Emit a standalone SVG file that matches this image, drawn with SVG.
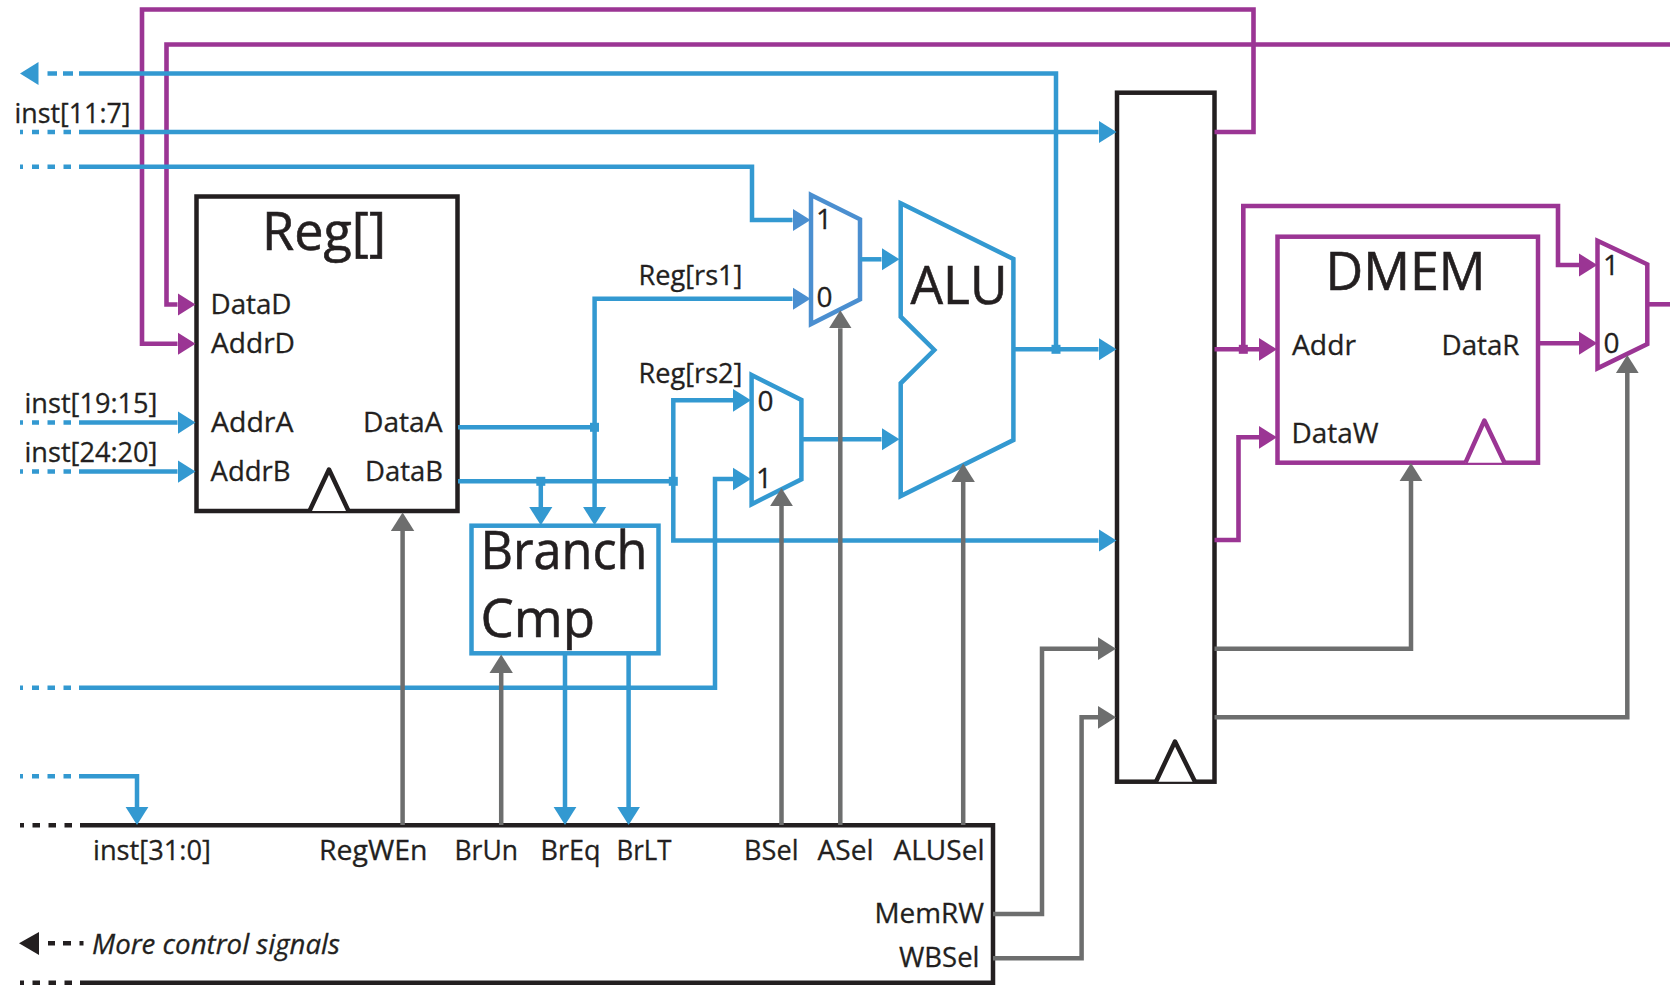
<svg xmlns="http://www.w3.org/2000/svg" width="1670" height="985" viewBox="0 0 1670 985">
<style>
text{font-family:"Open Sans","Noto Sans","Liberation Sans",sans-serif;fill:#231F20;font-size:28px;stroke:#231F20;stroke-width:.3px}
.big{font-size:53px;stroke-width:.6px}
.it{font-style:italic}
.c{fill:none;stroke-width:4.5;stroke-linejoin:miter}
.b{stroke:#3399D1}.p{stroke:#9B3594;stroke-width:4.6}.g{stroke:#6D6E6E}.k{stroke:#231F20}
.ba{marker-end:url(#ab)}.pa{marker-end:url(#ap)}.ga{marker-end:url(#ag)}.ma{marker-end:url(#am)}
.d{stroke-dasharray:3 9 7 8.5 7.5 8.5 7.5 8}
.box{fill:#fff;stroke-width:4.5}
.bk{stroke:#231F20}.bl{stroke:#3399D1}.pu{stroke:#9B3594}.mb{stroke:#4B8FD0}
.tri{fill:#fff;stroke-width:4.5;stroke-linejoin:round}
.jb{fill:#3399D1}.jp{fill:#9B3594}
</style>
<defs>
<marker id="ab" markerUnits="userSpaceOnUse" markerWidth="19" markerHeight="24" refX="0" refY="12" orient="auto"><path d="M-1 0L18 12L-1 24z" fill="#3399D1"/></marker>
<marker id="am" markerUnits="userSpaceOnUse" markerWidth="19" markerHeight="24" refX="0" refY="12" orient="auto"><path d="M-1 0L18 12L-1 24z" fill="#4B8FD0"/></marker>
<marker id="ap" markerUnits="userSpaceOnUse" markerWidth="19" markerHeight="24" refX="0" refY="12" orient="auto"><path d="M-1 0L18 12L-1 24z" fill="#9B3594"/></marker>
<marker id="ag" markerUnits="userSpaceOnUse" markerWidth="19" markerHeight="24" refX="0" refY="12" orient="auto"><path d="M-1 0L18 12L-1 24z" fill="#6D6E6E"/></marker>
</defs>

<g id="reg">
<rect class="box bk" x="196.5" y="196.5" width="261" height="314.5"/>
<path class="tri bk" d="M309.5 511L329 469.5L348.5 511"/>
<text class="big" x="262" y="250" textLength="124" lengthAdjust="spacingAndGlyphs">Reg[]</text>
<text x="210.5" y="313.7" textLength="81" lengthAdjust="spacingAndGlyphs">DataD</text>
<text x="211" y="353.3" textLength="84" lengthAdjust="spacingAndGlyphs">AddrD</text>
<text x="211" y="431.7" textLength="82.5" lengthAdjust="spacingAndGlyphs">AddrA</text>
<text x="210.5" y="480.7" textLength="80" lengthAdjust="spacingAndGlyphs">AddrB</text>
<text x="363" y="431.7" textLength="79.5" lengthAdjust="spacingAndGlyphs">DataA</text>
<text x="365" y="480.7" textLength="78" lengthAdjust="spacingAndGlyphs">DataB</text>
</g>
<g id="branch-cmp">
<rect class="box bl" x="471.5" y="525.7" width="187" height="127.6"/>
<text class="big" x="480.5" y="569.3" textLength="167" lengthAdjust="spacingAndGlyphs">Branch</text>
<text class="big" x="480.5" y="636.7" textLength="114.5" lengthAdjust="spacingAndGlyphs">Cmp</text>
</g>
<g id="mux-a">
<path class="box mb" d="M811 195L860 219.3V299.3L811 324z"/>
<text x="816" y="229.3">1</text>
<text x="816.5" y="307">0</text>
</g>
<g id="mux-b">
<path class="box bl" d="M751.6 375L801.4 400V479.3L751.6 504.3z"/>
<text x="757.5" y="410.7">0</text>
<text x="756" y="487.7">1</text>
</g>
<g id="alu">
<path class="box bl" d="M900.7 203.3L1013.4 259V440L900.7 496V383.3L934.3 350L900.7 316.7z"/>
<text class="big" x="910.5" y="304" textLength="97" lengthAdjust="spacingAndGlyphs">ALU</text>
</g>
<g id="pipeline-register">
<rect class="box bk" x="1117" y="92.7" width="97.5" height="689"/>
<path class="tri bk" d="M1156 781.7L1175 741.5L1195 781.7"/>
</g>
<g id="dmem">
<rect class="box pu" x="1277.5" y="236.7" width="260.5" height="226"/>
<path class="tri pu" d="M1465.5 462.7L1484.4 420.5L1504.5 462.7"/>
<text class="big" x="1325.5" y="290" textLength="160" lengthAdjust="spacingAndGlyphs">DMEM</text>
<text x="1292" y="354.5" textLength="64" lengthAdjust="spacingAndGlyphs">Addr</text>
<text x="1441.5" y="354.5" textLength="78" lengthAdjust="spacingAndGlyphs">DataR</text>
<text x="1291.5" y="442.7" textLength="87" lengthAdjust="spacingAndGlyphs">DataW</text>
</g>
<g id="mux-wb">
<path class="box pu" d="M1597.5 240.7L1647.3 264.3V344L1597.5 368.3z"/>
<text x="1603" y="275">1</text>
<text x="1603.5" y="352.7">0</text>
</g>
<g id="control">
<path class="box bk" d="M83 825.3H993V982.7H83" fill="#fff"/>
<text x="93" y="860" textLength="118" lengthAdjust="spacingAndGlyphs">inst[31:0]</text>
<text x="319" y="860" textLength="108.5" lengthAdjust="spacingAndGlyphs">RegWEn</text>
<text x="454.5" y="860" textLength="63.5" lengthAdjust="spacingAndGlyphs">BrUn</text>
<text x="540.5" y="860" textLength="60" lengthAdjust="spacingAndGlyphs">BrEq</text>
<text x="616.5" y="860" textLength="55" lengthAdjust="spacingAndGlyphs">BrLT</text>
<text x="744" y="860" textLength="54.5" lengthAdjust="spacingAndGlyphs">BSel</text>
<text x="817.5" y="860" textLength="56" lengthAdjust="spacingAndGlyphs">ASel</text>
<text x="893.5" y="860" textLength="91" lengthAdjust="spacingAndGlyphs">ALUSel</text>
<text x="874.5" y="923.3" textLength="109.5" lengthAdjust="spacingAndGlyphs">MemRW</text>
<text x="899" y="967.3" textLength="80.5" lengthAdjust="spacingAndGlyphs">WBSel</text>
</g>

<g id="connectors">
<g id="wb-data">
<path class="c p pa" d="M1214.5 132H1253.5V9.5H142V343.8H177.5"/>
<path class="c p pa" d="M1670 44.5H166.5V304.5H177.5"/>
<path class="c p pa" d="M1214.5 349.3H1259"/>
<path class="c p pa" d="M1243.3 349.3V206H1558V265H1579.3"/>
<path class="c p pa" d="M1214.5 540H1238.5V437.3H1259"/>
<path class="c p pa" d="M1538 343.3H1579.3"/>
<path class="c p" d="M1647.3 304.3H1670"/>
<rect class="jp" x="1238.8" y="344.8" width="9" height="9"/>
</g>
<g id="blue-wires">
<path class="c b" d="M1056 349.3V73.4H79"/>
<path class="c b" d="M73 73.4H47.5" stroke-dasharray="10 6"/>
<path d="M38.5 62L20 73.4L38.5 85z" class="jb"/>
<path class="c b d" d="M20 132H79"/><path class="c b ba" d="M79 132H1098.5"/>
<path class="c b d" d="M20 166.7H79"/><path class="c b ma" d="M79 166.7H752V220H792.5"/>
<path class="c b d" d="M20 422.6H79"/><path class="c b ba" d="M79 422.6H177.5"/>
<path class="c b d" d="M20 471.6H79"/><path class="c b ba" d="M79 471.6H177.5"/>
<path class="c b" d="M458 427.3H594.6"/>
<path class="c b ba" d="M594.6 427.3V507.3"/>
<path class="c b ma" d="M594.6 427.3V298.7H792.5"/>
<path class="c b" d="M458 481.3H673.3"/>
<path class="c b ba" d="M540.8 481.3V507.3"/>
<path class="c b ba" d="M673.3 481.3V400.3H733"/>
<path class="c b ba" d="M673.3 481.3V540.5H1098.5"/>
<path class="c b d" d="M20 687.7H79"/><path class="c b ba" d="M79 687.7H715V479H733"/>
<path class="c b d" d="M20 776.3H79"/><path class="c b ba" d="M79 776.3H137V807"/>
<path class="c b ba" d="M860 259.3H881.5"/>
<path class="c b ba" d="M801.4 439.3H881.5"/>
<path class="c b ba" d="M1013.4 349.3H1098.5"/>
<path class="c b ba" d="M565 653V807"/>
<path class="c b ba" d="M628.6 653V807"/>
<rect class="jb" x="590" y="422.8" width="9" height="9"/>
<rect class="jb" x="536.3" y="476.8" width="9" height="9"/>
<rect class="jb" x="668.8" y="476.8" width="9" height="9"/>
<rect class="jb" x="1051.5" y="344.8" width="9" height="9"/>
</g>
<g id="control-wires">
<path class="c g ga" d="M402.6 825V530.5"/>
<path class="c g ga" d="M501.2 825V672.5"/>
<path class="c g ga" d="M781.5 825V506"/>
<path class="c g ga" d="M840.3 825V328.3"/>
<path class="c g ga" d="M963.2 825V481.5"/>
<path class="c g ga" d="M993 914H1042V648.7H1098"/>
<path class="c g ga" d="M993 958.3H1081.6V717.3H1098"/>
<path class="c g ga" d="M1214.5 648.7H1411V481"/>
<path class="c g ga" d="M1214.5 717.3H1627.3V373"/>
</g>
<g id="black-dashes">
<path class="c k" d="M20 825.3H83" stroke-dasharray="4 8.5 7.5 8.5 7.5 8.5 7.5 8"/>
<path class="c k" d="M20 982.7H83" stroke-dasharray="4 8.5 7.5 8.5 7.5 8.5 7.5 8"/>
<path class="c k" d="M83.5 943.3H48" stroke-dasharray="4 8.5 8 8 7.5"/>
<path d="M39 932L19 943.3L39 955z" fill="#231F20"/>
</g>
</g>
<g id="labels">
<text x="14.5" y="123.4" textLength="116" lengthAdjust="spacingAndGlyphs">inst[11:7]</text>
<text x="24.5" y="413" textLength="133" lengthAdjust="spacingAndGlyphs">inst[19:15]</text>
<text x="24.5" y="462" textLength="133" lengthAdjust="spacingAndGlyphs">inst[24:20]</text>
<text x="638.5" y="285" textLength="104" lengthAdjust="spacingAndGlyphs">Reg[rs1]</text>
<text x="638.5" y="382.7" textLength="104" lengthAdjust="spacingAndGlyphs">Reg[rs2]</text>
<text class="it" x="92" y="953.5" textLength="248" lengthAdjust="spacingAndGlyphs">More control signals</text>
</g>
</svg>
